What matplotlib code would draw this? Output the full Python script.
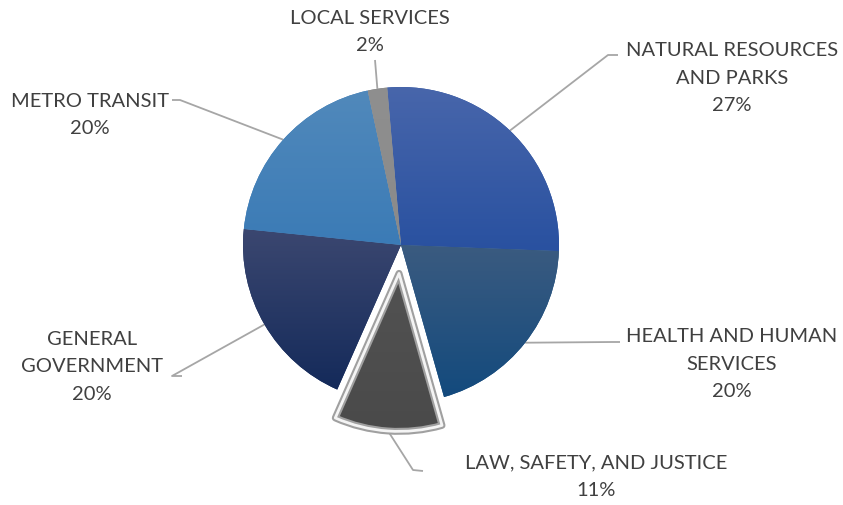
import numpy as np
import matplotlib
matplotlib.use("Agg")
import matplotlib.pyplot as plt
from matplotlib.colors import LinearSegmentedColormap
from matplotlib.patches import Wedge

plt.rcParams['font.family'] = ['Lato', 'DejaVu Sans']

# data (clockwise from the top)
labels = ["NATURAL RESOURCES\nAND PARKS", "HEALTH AND HUMAN\nSERVICES",
          "LAW, SAFETY, AND JUSTICE", "GENERAL\nGOVERNMENT", "METRO TRANSIT",
          "LOCAL SERVICES"]
shares = [27, 20, 11, 20, 20, 2]
pulled = [0, 0, 0.18, 0, 0, 0]   # fraction of radius
# gradient colours per slice: (top, bottom)
grads = [("#4866ab", "#2951a0"), ("#3b5b80", "#134a7d"), ("#525252", "#4a4a4a"),
         ("#3b4770", "#142a5a"), ("#5189bb", "#3b7bb6"), ("#8f8f8f", "#8a8a8a")]

W, H = 843, 505
cx, cy, R = 401, H - 245, 158
# label layout: text centre, elbow point, tail end
lab_pos = [(732, H - 78), (732, H - 364), (596, H - 477), (92, H - 367), (90, H - 115), (370, H - 32)]
elbows = [(608, H - 55), (612, H - 342), (413, H - 470), (172, H - 376), (180, H - 100), (375, H - 60)]
tails = [(618, H - 55), (620, H - 342), (423, H - 471), (182, H - 376), (172, H - 100), (375, H - 60)]

fig = plt.figure(figsize=(W / 100, H / 100), dpi=100)
ax = fig.add_axes([0, 0, 1, 1])

wedges, _ = ax.pie(shares, explode=[p * R for p in pulled], startangle=95,
                   counterclock=False, center=(cx, cy), radius=R, frame=True,
                   wedgeprops=dict(linewidth=0))
ax.set_xlim(0, W)
ax.set_ylim(0, H)
ax.set_aspect('equal')
ax.axis('off')

grad = np.linspace(0, 1, 256).reshape(-1, 1)
for w, (top, bot) in zip(wedges, grads):
    w.set_facecolor(bot)
    w.set_zorder(1)
    bb = w.get_path().get_extents(w.get_patch_transform())
    cmap = LinearSegmentedColormap.from_list("g", [bot, top])
    im = ax.imshow(grad, cmap=cmap, origin='lower', aspect='auto',
                   extent=(bb.x0, bb.x1, bb.y0, bb.y1), zorder=2)
    im.set_clip_path(w)

# outline of the pulled-out slice
law = wedges[2]
for lw, col, z in [(5, "#a0a0a0", 3), (2, "#f4f4f4", 4)]:
    ow = Wedge(law.center, law.r, law.theta1, law.theta2, facecolor='none',
               edgecolor=col, linewidth=lw, zorder=z, joinstyle='round')
    ax.add_patch(ow)

# labels with leader lines
for w, lab, s, pos, el, tl in zip(wedges, labels, shares, lab_pos, elbows, tails):
    mid = np.deg2rad((w.theta1 + w.theta2) / 2)
    px = w.center[0] + w.r * np.cos(mid)
    py = w.center[1] + w.r * np.sin(mid)
    ax.plot([px, el[0], tl[0]], [py, el[1], tl[1]], color="#a6a6a6", lw=1.3,
            zorder=0.5, solid_capstyle='butt')
    ax.text(pos[0], pos[1], f"{lab}\n{s}%", ha='center', va='center',
            fontsize=14.5, color="#404040", linespacing=1.75)

ax.set_xlim(0, W)
ax.set_ylim(0, H)
fig.savefig("out.png", dpi=100)
